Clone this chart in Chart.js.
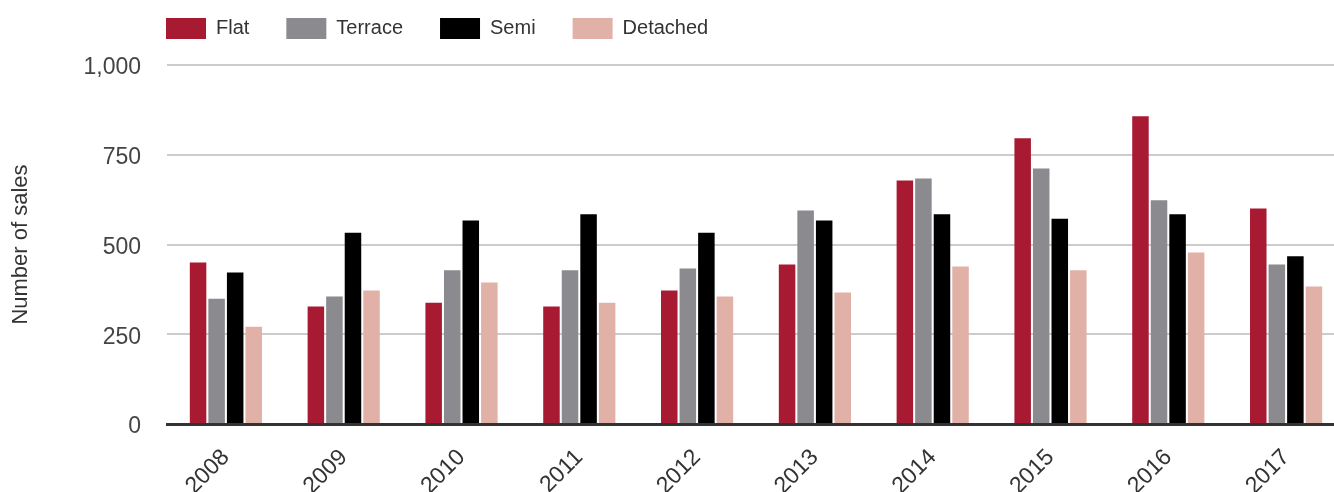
<!DOCTYPE html>
<html lang="en">
<head>
    <meta charset="UTF-8">
    <title>Sales by property type</title>
    <script src="https://cdn.jsdelivr.net/npm/chart.js"></script>
    <style>
        html, body { margin: 0; padding: 0; background: #fff; overflow: hidden; }
        /* plot runs a little past the right edge of the window */
        #chartCont { width: 1345px; height: 492px; position: relative; }
    </style>
</head>
<body>
    <div id="chartCont">
        <canvas id="salesChart"></canvas>
    </div>
    <script>
    // yearly sales counts per property type
    const years = ['2008', '2009', '2010', '2011', '2012', '2013', '2014', '2015', '2016', '2017']
    const flat = [450, 327, 338, 327, 372, 444, 678, 796, 857, 600]
    const terrace = [349, 355, 428, 428, 433, 595, 684, 712, 623, 444]
    const semi = [422, 533, 567, 584, 533, 567, 584, 572, 584, 467]
    const detached = [271, 372, 394, 338, 355, 366, 439, 428, 478, 383]
    const yTicks = [0, 250, 500, 750, 1000]

    const font = "'Liberation Sans', Arial, Helvetica, sans-serif"
    const legendPad = 37

    // legend sits flush with the plot area, not the canvas edge
    const legendShift = {
        id: 'legendShift',
        afterLayout: (chart) => {
            chart.legend.left = chart.chartArea.left - 1 - legendPad
            chart.legend.top = 18 - legendPad
        }
    }

    const data = {
        labels: years,
        datasets: [
            { label: 'Flat', data: flat, backgroundColor: '#a81a32' },
            { label: 'Terrace', data: terrace, backgroundColor: '#8a8a8f' },
            { label: 'Semi', data: semi, backgroundColor: '#000000' },
            { label: 'Detached', data: detached, backgroundColor: '#e1b0a7' }
        ]
    }

    const config = {
        type: 'bar',
        data: data,
        plugins: [legendShift],
        options: {
            responsive: true,
            maintainAspectRatio: false,
            animation: false,
            datasets: {
                bar: { categoryPercentage: 0.63, barPercentage: 0.89 }
            },
            plugins: {
                tooltip: { enabled: false },
                legend: {
                    position: 'top',
                    align: 'start',
                    maxHeight: 65,
                    labels: {
                        boxWidth: 40,
                        boxHeight: 21,
                        padding: legendPad,
                        color: '#333',
                        font: { family: font, size: 20 }
                    }
                }
            },
            scales: {
                x: {
                    z: 1,
                    grid: { display: false, drawTicks: false },
                    border: { display: true, color: '#333', width: 3 },
                    ticks: {
                        color: '#333',
                        minRotation: 45,
                        maxRotation: 45,
                        padding: 20,
                        font: { family: font, size: 23 }
                    },
                    afterFit: (scale) => { scale.height = 68 }
                },
                y: {
                    min: 0,
                    max: 1000,
                    afterBuildTicks: (scale) => { scale.ticks = yTicks.map(v => ({ value: v })) },
                    grid: { color: '#cccccc', lineWidth: 2, drawTicks: false },
                    border: { display: false },
                    ticks: {
                        color: '#444',
                        padding: 26,
                        labelOffset: 3,
                        font: { family: font, size: 23 },
                        callback: (value) => value.toLocaleString('en-US')
                    },
                    title: {
                        display: true,
                        text: 'Number of sales',
                        color: '#333',
                        padding: { top: 8, bottom: 0 },
                        font: { family: font, size: 22 }
                    },
                    afterFit: (scale) => { scale.width = 167 }
                }
            }
        }
    }

    const salesChart = new Chart(document.getElementById('salesChart'), config)
    </script>
</body>
</html>
